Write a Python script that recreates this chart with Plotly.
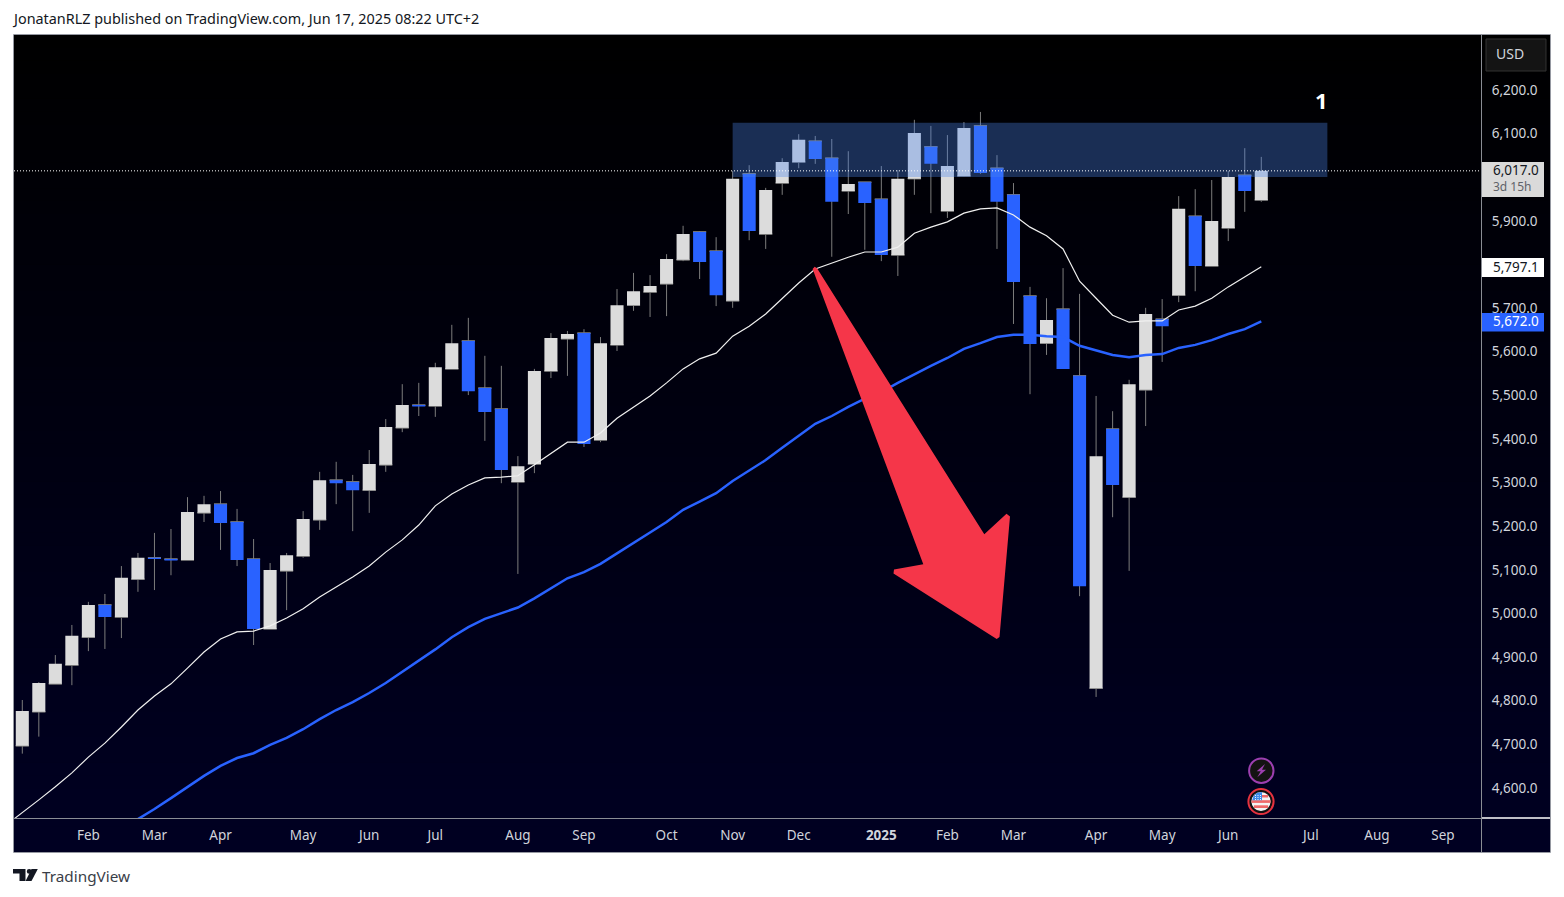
import math
import pandas as pd
import plotly.graph_objects as go

FIRST_WEEK = pd.Timestamp("2024-01-08")

opens = [4699,4777,4841,4884,4948,5022,4994,5081,5130,5127,5125,5233,5253,5212,5127,4967,5100,5134,5217,5308,
         5304,5285,5343,5428,5480,5478,5563,5627,5519,5471,5304,5345,5558,5632,5645,5400,5618,5709,5739,5758,
         5813,5877,5833,5719,6010,5872,5989,6037,6085,6046,5971,5991,5952,5824,5999,6072,5925,6005,6120,6023,
         5962,5730,5622,5700,5547,4831,5425,5269,5515,5677,5732,5913,5799,5886,6007,5950]
highs = [4804,4845,4907,4976,5029,5047,5111,5141,5187,5196,5269,5272,5283,5242,5173,5118,5141,5237,5327,5350,
         5320,5377,5448,5528,5531,5577,5664,5680,5593,5570,5363,5563,5645,5650,5654,5636,5746,5783,5778,5826,
         5891,5879,5865,6017,6030,5978,6046,6101,6097,6090,6062,5991,6028,6019,6134,6120,6099,6129,6152,6053,
         5989,5751,5725,5794,5735,5501,5466,5538,5703,5723,5959,5975,5996,6017,6069,6049]
lows = [4681,4720,4841,4838,4916,4921,4946,5052,5056,5090,5125,5212,5148,5111,4930,4967,5010,5130,5194,5253,
        5191,5233,5327,5418,5455,5453,5563,5503,5398,5301,5093,5324,5542,5547,5384,5395,5604,5696,5682,5684,
        5810,5769,5707,5703,5858,5838,5962,6023,6033,5820,5918,5836,5810,5776,5962,5920,5909,6003,6010,5838,
        5666,5505,5595,5563,5042,4811,5223,5100,5432,5579,5716,5741,5799,5856,5923,5946]
closes = [4779,4843,4887,4951,5022,4994,5084,5130,5127,5124,5235,5253,5210,5125,4967,5102,5136,5219,5308,5301,
          5285,5345,5430,5480,5477,5567,5622,5512,5464,5331,5340,5558,5634,5643,5391,5622,5709,5741,5753,5815,
          5872,5808,5732,5999,5879,5973,6037,6088,6044,5946,5987,5943,5824,5999,6104,6033,6028,6115,6012,5946,
          5762,5620,5675,5563,5065,5363,5297,5528,5689,5661,5930,5799,5902,6003,5971,6017]

# Thin white average, starting one week before the first candle
ema_white = [4517,4545,4575,4605,4637,4673,4705,4742,4781,4813,4841,4877,4914,4944,4960,4962,4974,4992,5013,5040,5063,
             5086,5111,5143,5171,5205,5249,5276,5297,5313,5315,5318,5343,5370,5395,5395,5416,5450,5476,5501,5531,
             5563,5586,5599,5638,5661,5689,5725,5760,5792,5806,5819,5831,5831,5842,5874,5888,5900,5920,5930,5932,
             5916,5888,5868,5838,5764,5725,5686,5670,5673,5673,5698,5707,5725,5751,5774,5797.1]
# Thick blue average, starting at the seventh candle
ema_blue = [4508,4531,4554,4579,4605,4630,4653,4671,4682,4701,4717,4737,4760,4781,4799,4820,4843,4869,4893,4920,
            4948,4971,4990,5003,5016,5037,5060,5083,5097,5116,5140,5165,5188,5212,5240,5259,5278,5306,5331,5354,
            5382,5409,5437,5455,5476,5495,5510,5531,5551,5570,5588,5609,5622,5636,5641,5641,5638,5636,5616,5606,
            5595,5590,5595,5597,5611,5618,5629,5643,5654,5672]

month_ticks = ["2024-02-05","2024-03-04","2024-04-01","2024-05-06","2024-06-03","2024-07-01","2024-08-05","2024-09-02",
               "2024-10-07","2024-11-04","2024-12-02","2025-01-06","2025-02-03","2025-03-03","2025-04-07","2025-05-05",
               "2025-06-02","2025-07-07","2025-08-04","2025-09-01"]
month_labels = ["Feb","Mar","Apr","May","Jun","Jul","Aug","Sep","Oct","Nov","Dec","<b>2025</b>","Feb","Mar","Apr","May",
                "Jun","Jul","Aug","Sep"]
price_ticks = [4600,4700,4800,4900,5000,5100,5200,5300,5400,5500,5600,5700,5900,6100,6200]

ZONE_LOW, ZONE_HIGH = 6003, 6127
LAST_PRICE = 6017.0

W, H = 1564, 897
FONT = "Noto Sans"
BLUE = "#2962ff"
CANDLE_WHITE = "#dcdcdc"
WICK = "#7c7c7c"


def week(i):
    return FIRST_WEEK + pd.Timedelta(days=7 * i)


def px(x):
    return x / W


def py(y):
    return 1 - y / H


def rect(x0, y0, x1, y1, fill, layer="above", line=None, lw=0):
    return dict(type="rect", xref="paper", yref="paper", x0=px(x0), x1=px(x1), y0=py(y0), y1=py(y1),
                fillcolor=fill, layer=layer, line=dict(width=lw, color=line or fill))


def circle(cx, cy, r, fill, line=None, lw=0, layer="above"):
    return dict(type="circle", xref="paper", yref="paper", x0=px(cx - r), x1=px(cx + r), y0=py(cy - r), y1=py(cy + r),
                fillcolor=fill, layer=layer, line=dict(width=lw, color=line or fill))


def poly(points, fill, layer="above", line=None, lw=0):
    path = "M " + " L ".join(f"{px(a):.6f},{py(b):.6f}" for a, b in points) + " Z"
    return dict(type="path", xref="paper", yref="paper", path=path, fillcolor=fill, layer=layer,
                line=dict(width=lw, color=line or fill))


def hline(x0, x1, y, color, width=1):
    return dict(type="line", xref="paper", yref="paper", x0=px(x0), x1=px(x1), y0=py(y), y1=py(y),
                line=dict(color=color, width=width), layer="above")


def vline(x, y0, y1, color, width=1):
    return dict(type="line", xref="paper", yref="paper", x0=px(x), x1=px(x), y0=py(y0), y1=py(y1),
                line=dict(color=color, width=width), layer="above")


def text(x, y, s, size=14, color="#d1d4dc", anchor="left"):
    return dict(x=px(x), y=py(y), xref="paper", yref="paper", text=s, showarrow=False, xanchor=anchor, yanchor="middle",
                font=dict(family=FONT, size=size, color=color), align=anchor)


dates = [week(i) for i in range(len(opens))]

fig = go.Figure()
fig.add_trace(go.Scatter(x=[week(i - 1) for i in range(len(ema_white))], y=ema_white, mode="lines",
                         line=dict(color="#f0f0f0", width=1.2), hoverinfo="skip", showlegend=False))
fig.add_trace(go.Scatter(x=[week(i + 6) for i in range(len(ema_blue))], y=ema_blue, mode="lines",
                         line=dict(color=BLUE, width=2.5), hoverinfo="skip", showlegend=False))
# wicks: same highs and lows, body collapsed and hidden behind the real body
fig.add_trace(go.Candlestick(x=dates, open=opens, high=highs, low=lows, close=opens, whiskerwidth=0,
                             increasing=dict(line=dict(color=WICK, width=1), fillcolor=WICK),
                             decreasing=dict(line=dict(color=WICK, width=1), fillcolor=WICK),
                             hoverinfo="skip", showlegend=False))
fig.add_trace(go.Candlestick(x=dates, open=opens, high=highs, low=lows, close=closes, whiskerwidth=0,
                             increasing=dict(line=dict(color=CANDLE_WHITE, width=0), fillcolor=CANDLE_WHITE),
                             decreasing=dict(line=dict(color=BLUE, width=0), fillcolor=BLUE),
                             showlegend=False))

shapes = []
# dark vertical gradient panel
P_L, P_R, P_T, P_B = 14, 1550, 35, 852
BANDS = 64
for k in range(BANDS):
    t = k / (BANDS - 1)
    y0 = P_T + (P_B - P_T) * k / BANDS
    y1 = P_T + (P_B - P_T) * (k + 1) / BANDS + 1
    shapes.append(rect(P_L, y0, P_R, min(y1, P_B), f"rgb(0,0,{round(34 * t)})", layer="below"))

# selected zone, last price line
shapes.append(dict(type="rect", xref="x", yref="y", x0=week(43), x1=week(79), y0=ZONE_LOW, y1=ZONE_HIGH,
                   fillcolor="rgba(75,133,238,0.345)", line=dict(width=0), layer="above"))
shapes.append(dict(type="line", xref="paper", yref="y", x0=px(14), x1=px(1481), y0=LAST_PRICE, y1=LAST_PRICE,
                   line=dict(color="#ffffff", width=1, dash="1px,2px"), layer="above"))

# red arrow drawing
shapes.append(poly([(812.6, 269), (814.7, 266.8), (817.2, 268.5), (984.3, 534.3), (1006.5, 513.8), (1010, 516.5),
                    (999.5, 637), (996.7, 639), (893.5, 573.5), (894, 569.6), (923.3, 564.3)], "#f53649"))

# frame and axis lines
frame = "#9598a1"
shapes += [hline(13.5, 1550.5, 34.5, frame), hline(13.5, 1550.5, 852.5, frame),
           vline(13.5, 34.5, 852.5, frame), vline(1550.5, 34.5, 852.5, frame),
           vline(1481.5, 35, 852, "#8a8d94"), hline(14, 1481, 818.5, "#8a8d94"),
           hline(1482, 1550, 818, "#ffffff", 1.5)]

# USD button
shapes.append(dict(type="path", xref="paper", yref="paper", fillcolor="#141414", layer="above",
                   line=dict(color="#333333", width=1),
                   path=("M {:.6f},{:.6f} L {:.6f},{:.6f} L {:.6f},{:.6f} L {:.6f},{:.6f} Z").format(
                       px(1486), py(39), px(1546), py(39), px(1546), py(71), px(1486), py(71))))

# price labels on the scale
shapes.append(rect(1482, 162, 1544, 197, "#dadada"))
shapes.append(rect(1482, 258, 1544, 277, "#ffffff"))
shapes.append(rect(1482, 313, 1544, 331.5, BLUE))

# event icons
shapes.append(circle(1261.3, 770.7, 12.2, "#131313", "#9c3fb0", 2))
shapes.append(poly([(1265, 764), (1256.7, 771.3), (1260.7, 771.3), (1257.3, 777.3), (1266, 769.8), (1262, 769.8)],
                   "#9c3fb0"))
FC, FY, FR = 1261, 801.5, 9.6
shapes.append(circle(FC, FY, 12.6, "#111111", "#e5323f", 2))
shapes.append(circle(FC, FY, FR, "#f4f4f4"))
for dy0, dy1 in [(-6.5, -4), (-1.3, 1.4), (3.8, 6.5)]:
    h0 = math.sqrt(max(FR ** 2 - max(abs(dy0), abs(dy1)) ** 2, 0))
    shapes.append(rect(FC - h0, FY + dy0, FC + h0, FY + dy1, "#ef6a6a"))
shapes.append(poly([(FC - 8.8, FY - 1.3), (FC - 7.5, FY - 5.5), (FC - 4, FY - 8.8), (FC + 1, FY - 9.6), (FC + 1, FY - 1.3)],
                   "#3d8be8"))
for a in (-6, -3.5, -1):
    for b in (-6.5, -4.5, -2.5):
        shapes.append(rect(FC + a, FY + b, FC + a + 1, FY + b + 1, "#e8f1ff"))

# TradingView logo
shapes.append(poly([(13, 869), (25.5, 869), (25.5, 881), (19.5, 881), (19.5, 873.5), (13, 873.5)], "#131722"))
shapes.append(circle(29.2, 871.4, 2.4, "#131722"))
shapes.append(poly([(31.5, 869), (37.8, 869), (31.5, 881), (25.6, 881)], "#131722"))

annotations = [
    text(10, 19, "JonatanRLZ published on TradingView.com, Jun 17, 2025 08:22 UTC+2", 14.4, "#131722"),
    text(40, 875.5, "TradingView", 15.3, "#3a3e48"),
    text(1321, 100, "<b>1</b>", 22, "#ffffff", "center"),
    text(1510, 54, "USD", 14, "#d1d4dc", "center"),
    text(1491, 170, "6,017.0", 13.5, "#131722"),
    text(1491, 186.5, "3d 15h", 12, "#5f6269"),
    text(1491, 266.5, "5,797.1", 13.5, "#131722"),
    text(1491, 321, "5,672.0", 13.5, "#ffffff"),
]

fig.update_layout(
    width=W, height=H, autosize=False,
    margin=dict(l=0, r=0, t=0, b=0, pad=0, autoexpand=False),
    paper_bgcolor="#ffffff", plot_bgcolor="rgba(0,0,0,0)",
    boxgap=0.21, boxgroupgap=0, boxmode="overlay", showlegend=False,
    shapes=shapes, annotations=annotations,
    xaxis=dict(domain=[14 / W, 1481 / W], anchor="y", type="date",
               range=[week(-0.5024).isoformat(), week(88.3).isoformat()],
               rangeslider=dict(visible=False), showgrid=False, zeroline=False, showline=False,
               tickmode="array", tickvals=month_ticks, ticktext=month_labels, ticks="outside", ticklen=4,
               tickcolor="rgba(0,0,0,0)", tickfont=dict(family=FONT, size=13.5, color="#d1d4dc"), automargin=False),
    yaxis=dict(domain=[(H - 819) / H, (H - 35) / H], anchor="x", side="right",
               range=[4531.2, 6328.4], showgrid=False, zeroline=False, showline=False,
               tickmode="array", tickvals=price_ticks, tickformat=",.1f", ticks="outside", ticklen=7,
               ticklabelshift=-1,
               tickcolor="rgba(0,0,0,0)", tickfont=dict(family=FONT, size=13.5, color="#d1d4dc"), automargin=False),
)

fig.write_html("out.html", config=dict(displayModeBar=False),
               post_script="document.body.style.margin='0';document.body.style.overflow='hidden';")
